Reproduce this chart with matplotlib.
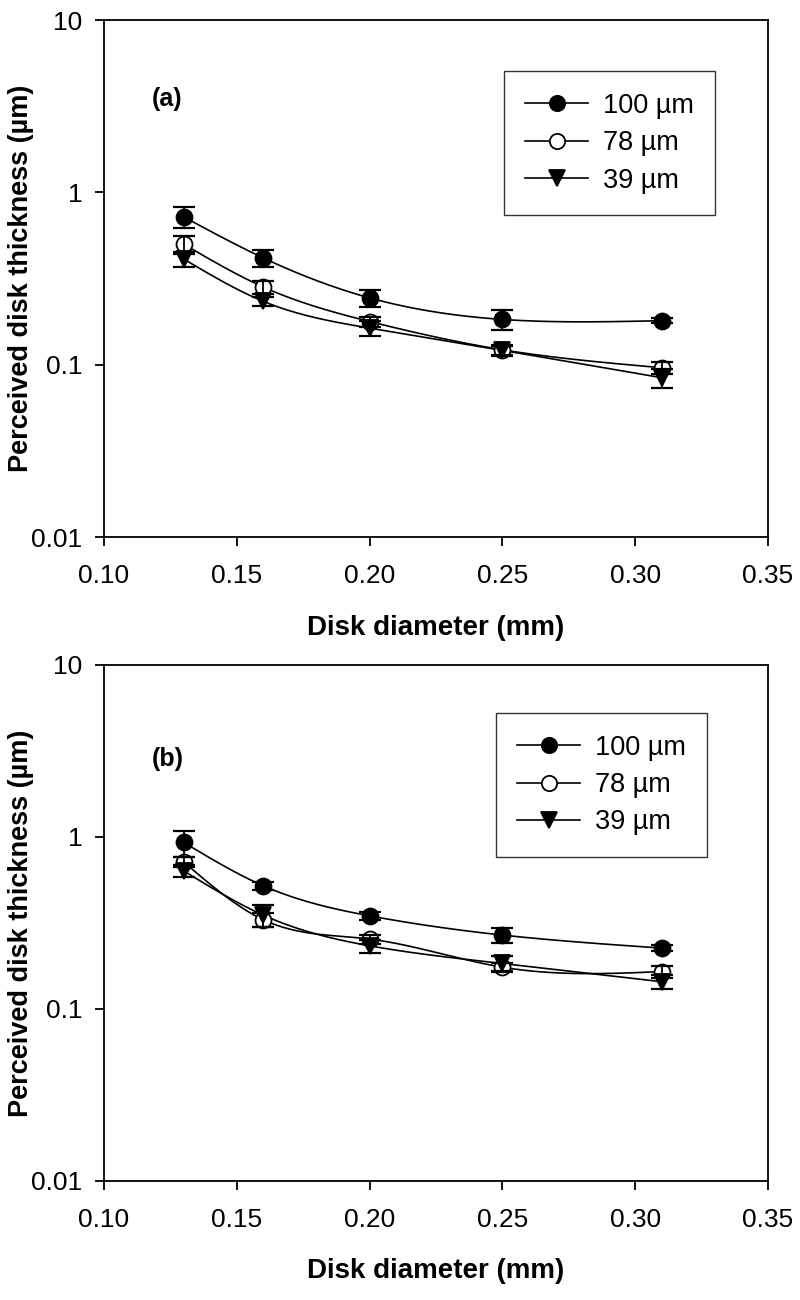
import numpy as np
import matplotlib
matplotlib.use("Agg")
import matplotlib.pyplot as plt
from matplotlib.ticker import FixedLocator, FixedFormatter, NullLocator

plt.rcParams['font.family'] = ['Liberation Sans', 'DejaVu Sans']

# ---- data ----
diameters = [0.13, 0.16, 0.20, 0.25, 0.31]
series_labels = ["100 \u00b5m", "78 \u00b5m", "39 \u00b5m"]

a_100 = [0.72, 0.416, 0.244, 0.183, 0.180]
a_100_err = [0.10, 0.045, 0.027, 0.024, 0.006]
a_78 = [0.50, 0.282, 0.178, 0.122, 0.096]
a_78_err = [0.06, 0.025, 0.012, 0.008, 0.008]
a_39 = [0.41, 0.233, 0.163, 0.121, 0.084]
a_39_err = [0.04, 0.015, 0.016, 0.008, 0.011]

b_100 = [0.93, 0.52, 0.348, 0.269, 0.226]
b_100_err = [0.16, 0.03, 0.02, 0.028, 0.01]
b_78 = [0.716, 0.33, 0.255, 0.175, 0.165]
b_78_err = [0.05, 0.03, 0.015, 0.01, 0.013]
b_39 = [0.635, 0.351, 0.233, 0.184, 0.144]
b_39_err = [0.05, 0.05, 0.02, 0.018, 0.013]

x_ticks = [0.10, 0.15, 0.20, 0.25, 0.30, 0.35]
x_tick_labels = ["0.10", "0.15", "0.20", "0.25", "0.30", "0.35"]
y_ticks = [0.01, 0.1, 1, 10]
y_tick_labels = ["0.01", "0.1", "1", "10"]


def spline_curve(x, y, n=300):
    """Natural cubic spline through data, in log10(y) space (for line drawing only)."""
    x = np.asarray(x, float)
    ly = np.log10(np.asarray(y, float))
    m = len(x)
    h = np.diff(x)
    A = np.zeros((m, m))
    r = np.zeros(m)
    A[0, 0] = A[-1, -1] = 1
    for i in range(1, m - 1):
        A[i, i - 1] = h[i - 1]
        A[i, i] = 2 * (h[i - 1] + h[i])
        A[i, i + 1] = h[i]
        r[i] = 3 * ((ly[i + 1] - ly[i]) / h[i] - (ly[i] - ly[i - 1]) / h[i - 1])
    c = np.linalg.solve(A, r)
    b = (ly[1:] - ly[:-1]) / h - h * (2 * c[:-1] + c[1:]) / 3
    d = (c[1:] - c[:-1]) / (3 * h)
    xs = np.linspace(x[0], x[-1], n)
    idx = np.clip(np.searchsorted(x, xs) - 1, 0, m - 2)
    dx = xs - x[idx]
    ys = ly[idx] + b[idx] * dx + c[idx] * dx ** 2 + d[idx] * dx ** 3
    return xs, 10 ** ys


fig = plt.figure(figsize=(8, 13), dpi=100)
W, H = 800, 1300
left, right = 104 / W, 768 / W
ax_a = fig.add_axes([left, 1 - 537 / H, right - left, (537 - 20) / H])
ax_b = fig.add_axes([left, 1 - 1181 / H, right - left, (1181 - 665) / H])

styles = [
    dict(marker='o', mfc='black', mec='black'),
    dict(marker='o', mfc='white', mec='black'),
    dict(marker='v', mfc='black', mec='black'),
]


def draw(ax, ys, errs, tag, leg_anchor, tag_pos):
    handles = []
    for y, e, st, lab in zip(ys, errs, styles, series_labels):
        xs, yc = spline_curve(diameters, y)
        ax.plot(xs, yc, color='black', lw=1.2, zorder=2)
        ax.errorbar(diameters, y, yerr=e, fmt='none', ecolor='black',
                    elinewidth=1.3, capsize=8, capthick=1.6, zorder=4)
        ax.plot(diameters, y, linestyle='none', ms=11.5, mew=1.3, zorder=3, **st)
        h, = ax.plot([], [], color='black', lw=1.2, ms=11, mew=1.3, **st)
        handles.append(h)
    ax.set_yscale('log')
    ax.set_xlim(0.10, 0.35)
    ax.set_ylim(0.01, 10)
    ax.yaxis.set_major_locator(FixedLocator(y_ticks))
    ax.yaxis.set_major_formatter(FixedFormatter(y_tick_labels))
    ax.yaxis.set_minor_locator(NullLocator())
    ax.set_xticks(x_ticks)
    ax.set_xticklabels(x_tick_labels)
    ax.tick_params(direction='out', length=6.5, width=1.3, labelsize=19,
                   top=False, right=False)
    ax.tick_params(axis='x', pad=13)
    ax.tick_params(axis='y', pad=9)
    for s in ax.spines.values():
        s.set_linewidth(1.3)
    ax.set_xlabel("Disk diameter (mm)", fontsize=20, fontweight='bold')
    ax.set_ylabel("Perceived disk thickness (\u00b5m)", fontsize=19.5,
                  fontweight='bold')
    ax.xaxis.set_label_coords(0.5, -0.150)
    ax.yaxis.set_label_coords(-0.105, 0.5)
    ax.text(tag_pos[0], tag_pos[1], tag, transform=ax.transAxes,
            fontsize=18, fontweight='bold', ha='left', va='center')
    leg = ax.legend(handles, series_labels, loc='upper left',
                    bbox_to_anchor=leg_anchor, fontsize=19.5, frameon=True,
                    fancybox=False, edgecolor='black', handlelength=2.3,
                    borderpad=0.8, labelspacing=0.42, handletextpad=0.55,
                    borderaxespad=0)
    leg.get_frame().set_linewidth(1.0)


draw(ax_a, [a_100, a_78, a_39], [a_100_err, a_78_err, a_39_err], "(a)",
     (0.602, 0.901), (0.072, 0.847))
draw(ax_b, [b_100, b_78, b_39], [b_100_err, b_78_err, b_39_err], "(b)",
     (0.590, 0.907), (0.072, 0.818))

fig.savefig("out.png", dpi=100)
